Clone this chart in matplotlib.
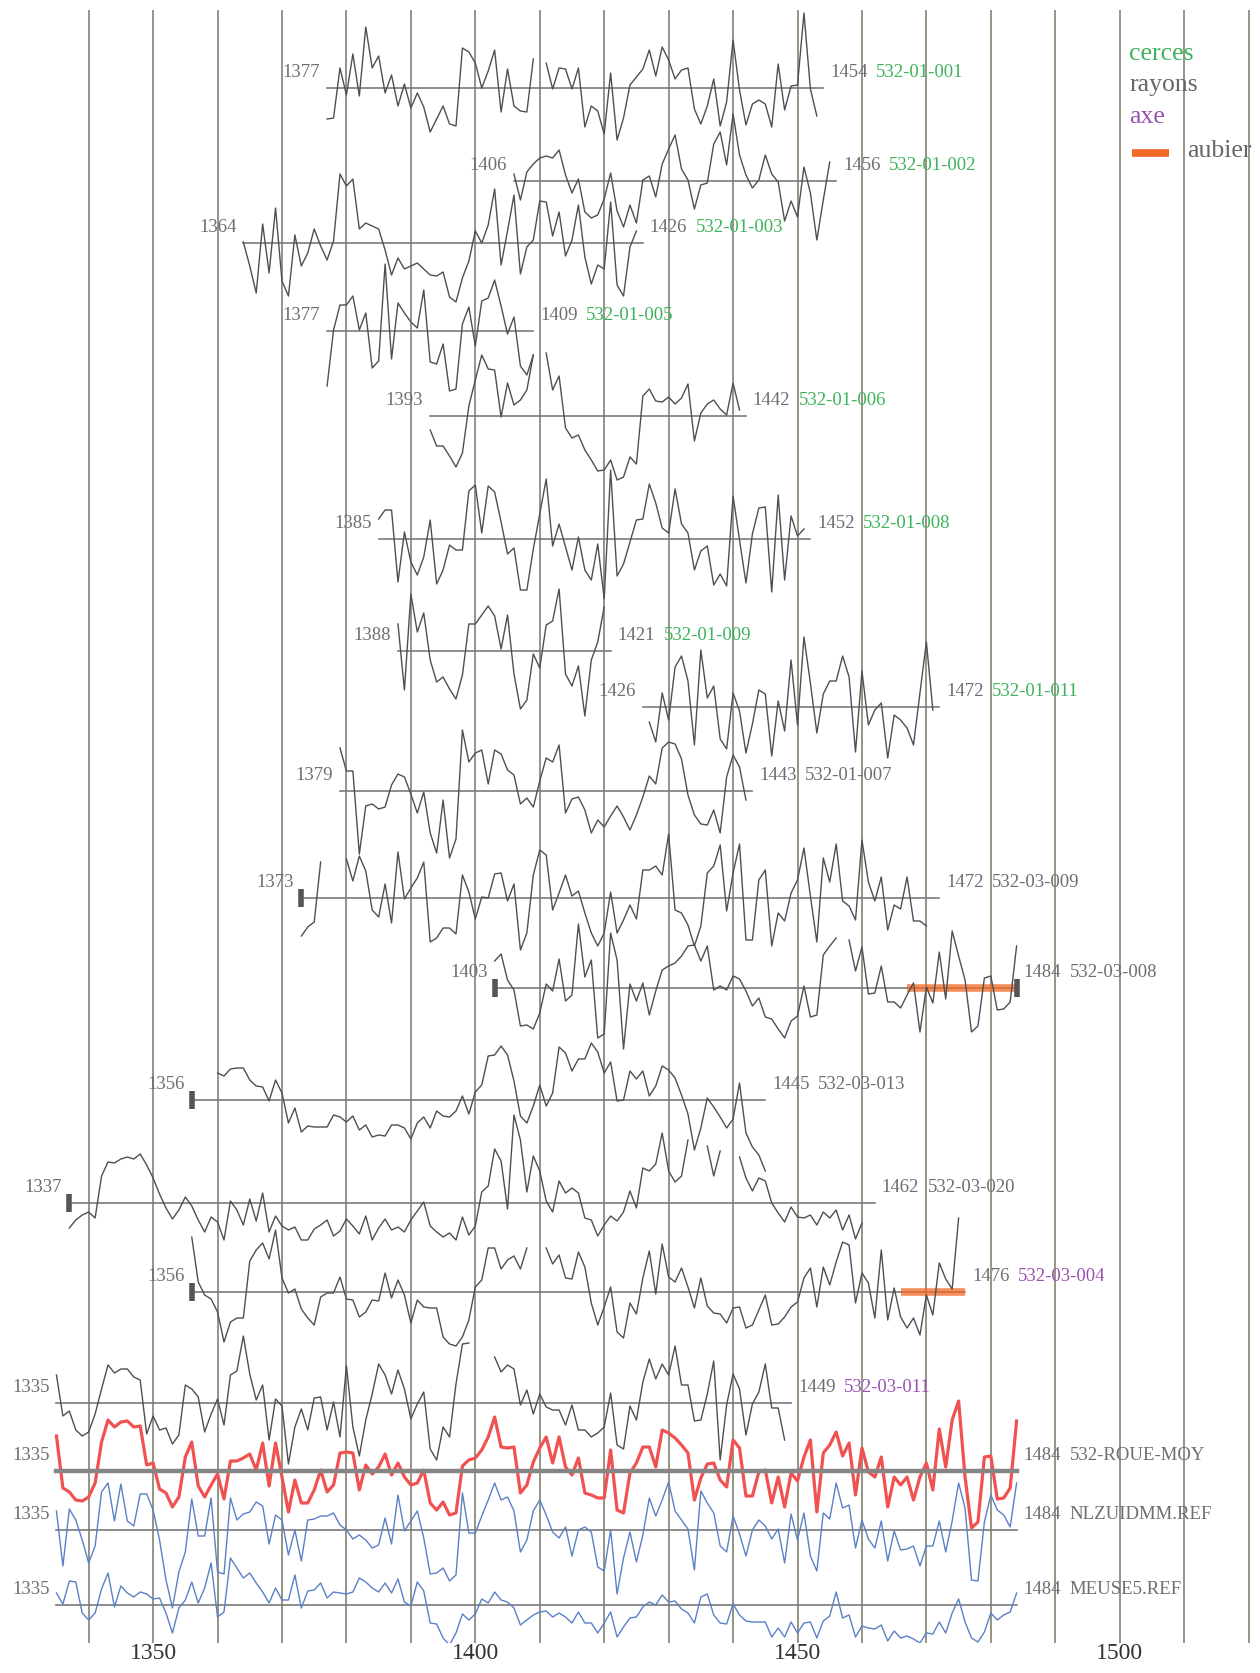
import numpy as np
import matplotlib.pyplot as plt
from matplotlib.lines import Line2D

nan = np.nan

# ring-width curves: px above each baseline, one value per year from the start year
s_01_001 = [-31, -30, 20, -7, 34, -8, 61, 20, 32, -5,
            13, -18, 4, -20, -5, -19, -44, -31, -18, -36,
            -38, 40, 36, 25, 0, 17, 38, -24, 19, -18,
            -23, -24, 29, nan, 25, -1, 20, 19, -1, 20,
            -39, -18, -23, -46, 15, -52, -30, 3, 11, 19,
            38, 12, 41, 28, 9, 18, 20, -21, -36, -18,
            9, -38, -14, 48, -2, -37, -16, -12, -16, -39,
            24, -22, 2, 3, 75, -1, -28, nan]
s_01_002 = [7, -19, 9, 17, 23, 25, 23, 31, 6, -12,
            2, -31, -37, -34, -18, 8, -30, -46, -24, -42,
            1, 5, -16, 17, 32, 46, 12, 1, -28, -4,
            -2, 37, 49, 16, 67, 26, 6, -7, 1, 26,
            7, -1, -40, -20, -36, 14, -12, -59, -19, 19,
            nan]
s_01_003 = [1, -23, -50, 19, -30, 35, -38, -53, 8, -23,
            -10, 14, -3, -17, 2, 69, 57, 64, 14, 20,
            17, 14, -7, -32, -15, -26, -23, -20, -26, -32,
            -33, -29, -54, -59, -35, -18, 12, 0, 18, 54,
            -22, 12, 48, -31, -4, 3, 42, 41, 7, 31,
            -13, 3, 38, -14, -41, -22, -26, 41, -42, -53,
            -4, 12, nan]
s_01_005 = [-55, 1, 26, 26, 35, 1, 18, -37, -30, 67,
            -28, 28, 18, 9, 3, 41, -31, -33, -13, -60,
            -58, 7, 24, -15, 30, 33, 51, 25, -3, 14,
            -35, -44, -24]
s_01_006 = [-14, -30, -30, -40, -51, -37, 10, 36, 61, 47,
            46, -1, 33, 11, 16, 26, 61, nan, 63, 26,
            40, -12, -22, -19, -34, -44, -55, -54, -44, -64,
            -61, -41, -48, 20, 27, 15, 14, 19, 12, 18,
            32, -25, 3, 12, 16, 7, 1, 33, 6, nan]
s_01_008 = [20, 29, 29, -43, 7, -23, -36, -18, 19, -45,
            -31, -6, -11, -11, 48, 54, 6, 53, 47, 17,
            -15, -9, -51, -51, -10, 25, 60, -7, 15, -8,
            -31, 2, -31, -41, -5, -60, 69, -37, -25, -3,
            19, 20, 55, 36, 11, 6, 50, 15, 6, -31,
            -12, -7, -46, -35, -47, 43, -1, -44, 5, 31,
            32, -53, 44, -41, 23, 3, 10, nan]
s_01_009 = [27, -39, 57, 19, 38, -9, -31, -26, -38, -48,
            -24, 27, 27, 36, 45, 35, 2, 36, -23, -58,
            -49, -3, -17, 26, 30, 62, -23, -35, -15, -65,
            -9, 9, 44, nan]
s_01_011 = [nan,
            -15, -35, 14, -13, 40, 51, 26, -38, 57, 9,
            21, -32, -42, 14, -4, -46, -17, 17, 13, -49,
            6, -24, 47, -18, 70, 24, -26, 13, 26, 26,
            51, 30, -45, 36, -18, -3, 4, -51, -8, -13,
            -21, -38, 14, 65, -3, nan]
s_01_007 = [43, 20, 20, -63, -15, -13, -18, -16, 6, 17,
            14, -3, -22, -1, -42, -62, -9, -67, -48, 61,
            29, 38, 41, 7, 41, 37, 21, 16, -13, -7,
            -16, 10, 33, 29, 46, -22, -8, -6, -19, -42,
            -29, -36, -25, -15, -26, -39, -24, -6, 15, 7,
            43, 49, 47, 32, -4, -24, -33, -34, -19, -42,
            14, 36, 24, -9, nan]
s_03_009 = [-38, -29, -24, 36, nan, nan, nan, 39, 17, 42,
            27, -12, -19, 14, -25, 46, -1, 10, 20, 36,
            -44, -40, -30, -30, -36, 23, 6, -21, 1, 0,
            24, 25, -3, 14, -52, -35, 23, 48, 43, -12,
            5, 23, 2, 7, -15, -35, -48, -35, 6, -35,
            -22, -7, -21, 28, 28, 32, 23, 64, -12, -15,
            -27, -48, -28, 25, 32, 53, -13, 25, 54, -42,
            -42, 18, 28, -48, -15, -23, 5, 18, 50, 2,
            -44, 40, 16, 54, -3, -8, -22, 58, 16, -3,
            21, -32, -7, -11, 21, -23, -23, -28, nan, nan]
s_03_008 = [27, 34, 8, -2, -38, -37, -41, -25, 4, -3,
            29, -13, -7, 64, 11, 28, -50, -46, 55, 28,
            -61, 4, -13, 5, -27, -3, 18, 22, 25, 32,
            42, 43, 27, 42, -2, 2, -2, 12, 9, -3,
            -18, -10, -29, -31, -41, -50, -33, -28, 2, -29,
            -27, 33, 42, 50, nan, 48, 17, 41, -6, -5,
            22, -14, -14, -20, -7, 5, -44, 1, -15, 36,
            -11, 57, 32, 8, -44, -38, 10, 12, -22, -21,
            -14, 42]
s_03_013 = [nan, nan, nan, nan, 27, 24, 31, 32, 32, 20,
            14, 13, -1, 20, 7, -23, -8, -32, -26, -27,
            -27, -27, -15, -17, -22, -16, -30, -25, -37, -35,
            -36, -25, -25, -28, -39, -23, -17, -28, -11, -16,
            -17, -11, 4, -14, 8, 15, 44, 45, 54, 45,
            19, -16, -23, -6, 15, -6, 7, 53, 47, 29,
            41, 41, 57, 48, 27, 38, -1, 0, 29, 21,
            29, 4, 14, 34, 30, 22, 5, -14, -50, -28,
            2, -7, -17, -28, -19, 17, -33, -47, -55, -71]
s_03_020 = [-25, -17, -12, -9, -15, 27, 41, 40, 44, 46,
            44, 49, 38, 25, 9, -5, -16, -7, 6, -3,
            -17, -29, -14, -19, -37, 2, -7, -22, 4, -18,
            10, -29, -13, -23, -27, -24, -37, -37, -26, -22,
            -17, -33, -28, -16, -23, -31, -13, -37, -25, -16,
            -27, -24, -29, -17, -8, 1, -23, -29, -34, -30,
            -37, -14, -32, -23, 11, 17, 54, 42, -6, 88,
            63, 11, 47, 32, 2, -9, 22, 10, 15, 10,
            -15, -17, -33, -22, -13, -18, -9, 12, -5, 35,
            32, 39, 70, 32, 21, 27, 63, nan, nan, 57,
            27, 52, nan, nan, 46, 25, 12, 25, 22, 0,
            -10, -19, -4, -14, -15, -12, -22, -9, -15, -7,
            -27, -12, -36, -20, nan, nan]
s_03_004 = [55, 10, -3, -7, -20, -50, -30, -26, -26, 31,
            42, 49, 33, 62, 14, -1, 3, -17, -26, -33,
            -5, -1, -1, 15, -7, -8, -25, -20, -8, -9,
            19, -6, 12, -3, -31, -8, -15, -16, -16, -45,
            -52, -54, -45, -28, 5, 12, 44, 44, 23, 32,
            36, 23, 44, nan, nan, 44, 28, 37, 14, 13,
            40, 25, -11, -33, -15, 5, -40, -46, -11, -22,
            14, 41, -2, 48, 15, 10, 24, 5, -16, 14,
            -14, -21, -22, -31, -16, -15, -36, -33, -18, -3,
            -33, -32, -25, -15, -10, 14, 24, -15, 25, 7,
            30, 50, 47, -11, 19, 9, -26, 42, -28, 4,
            -25, -36, -26, -43, -3, -23, 29, 13, 3, 74,
            nan]
s_03_011 = [28, -13, -8, -27, -33, -29, -11, 14, 38, 30,
            34, 34, 26, 23, -31, -13, -27, -25, -41, -32,
            18, 14, 6, -29, -11, 4, -22, 28, 32, 67,
            29, 3, 18, -37, 4, -3, -61, -24, -6, -27,
            5, 6, -27, 1, -34, 37, -24, -53, -17, 9,
            39, 28, 9, 33, 14, -16, -1, 11, -46, -57,
            -24, -34, 19, 59, 60, nan, nan, nan, 46, 31,
            38, 34, -2, 13, -11, 9, -4, -7, -7, -22,
            -2, -27, -27, -34, -30, -24, 10, -42, -46, -3,
            -17, 21, 44, 24, 39, 28, 57, 18, 18, -18,
            -17, 9, 42, -57, -2, 29, 14, -32, -1, 11,
            39, -5, -5, -37, nan]
roue_moy = [35, -17, -21, -29, -30, -26, -12, 29, 51, 44,
            49, 50, 44, 45, 6, 8, -18, -22, -36, -26,
            14, 29, -15, -26, -14, -3, -28, 10, 10, 13,
            17, 1, 28, -15, 28, -6, -41, -9, -32, -32,
            -19, 1, -21, -14, 18, 19, 18, -19, 6, -3,
            4, 17, -4, 8, -6, -14, -12, 1, -32, -39,
            -31, -44, -42, 5, 11, 13, 21, 34, 54, 24,
            23, 24, -22, -14, 9, 23, 34, 8, 34, 4,
            -4, 13, -22, -24, -27, -27, 21, -39, -42, -2,
            8, 24, 24, 4, 41, 38, 33, 26, 18, -29,
            -7, 7, 8, -9, -16, 31, 23, -25, -25, -1,
            1, -32, -6, -36, -2, -10, 14, 31, -41, 18,
            26, 39, 15, 28, -24, 23, -1, -6, 14, -36,
            -6, -14, -6, -29, -6, 8, -19, 42, 4, 51,
            70, -6, -57, -51, 14, 15, -28, -27, -17, 50]
nlzuidmm = [19, -36, 21, 10, -10, -33, -16, 38, 47, 9,
            46, 9, 4, 36, 36, 20, -10, -50, -78, -42,
            -22, 31, -6, -6, 32, -42, -44, 32, 10, 16,
            18, 28, 24, -14, 15, 10, -25, 0, -31, 10,
            11, 14, 14, 17, 5, 0, -9, -5, -10, -18,
            -15, 12, -14, 35, -1, 9, 19, -8, -44, -43,
            -38, -51, -45, 37, -3, -3, 14, 30, 47, 30,
            33, 19, -22, -10, 19, 30, 15, -2, -8, 3,
            -26, 0, 3, -2, -37, -41, 0, -64, -28, -2,
            -32, -5, 32, 14, 30, 48, 19, 10, 1, -40,
            39, 27, 17, -16, -22, 14, -4, -26, 0, 10,
            4, -9, 1, -33, 16, -10, 17, -26, -41, 17,
            11, 47, 22, 25, -18, 10, -9, -18, 9, -31,
            -1, -20, -19, -16, -36, -16, -16, 9, -22, 9,
            47, 22, -50, -51, 8, 35, 20, 15, 3, 47]
meuse5 = [12, 1, 24, 23, -8, -15, -8, 16, 32, -2,
          19, 12, 8, 13, 11, 6, 7, -8, -28, -3,
          5, 23, 2, 17, 42, -12, -7, 47, 37, 27,
          32, 22, 13, 2, 17, 5, 5, 30, -3, 14,
          15, 22, 7, 13, 12, 11, 13, 27, 23, 17,
          13, 22, 12, 26, 3, -1, 23, 14, -18, -19,
          -33, -40, -28, -9, -15, -9, 6, 2, 13, 5,
          3, -3, -20, -15, -10, -7, -6, -12, -8, -12,
          -18, -7, -18, -18, -28, -18, -7, -32, -22, -13,
          -12, -2, 3, 0, 10, 3, 4, -4, -8, -18,
          8, 11, -10, -18, -19, 1, -10, -16, -17, -17,
          -17, -32, -23, -32, -17, -28, -18, -17, -33, -16,
          -11, 13, -13, -10, -32, -21, -23, -24, -20, -36,
          -26, -33, -31, -34, -38, -28, -29, -17, -28, -8,
          6, -17, -33, -37, -27, -8, -15, -10, -7, 12]

series = [s_01_001, s_01_002, s_01_003, s_01_005, s_01_006, s_01_008,
          s_01_009, s_01_011, s_01_007, s_03_009, s_03_008, s_03_013,
          s_03_020, s_03_004, s_03_011, roue_moy, nlzuidmm, meuse5]
names = ["532-01-001", "532-01-002", "532-01-003", "532-01-005", "532-01-006",
         "532-01-008", "532-01-009", "532-01-011", "532-01-007", "532-03-009",
         "532-03-008", "532-03-013", "532-03-020", "532-03-004", "532-03-011",
         "532-ROUE-MOY", "NLZUIDMM.REF", "MEUSE5.REF"]
starts = [1377, 1406, 1364, 1377, 1393, 1385, 1388, 1426, 1379, 1373,
          1403, 1356, 1337, 1356, 1335, 1335, 1335, 1335]
ends = [1454, 1456, 1426, 1409, 1442, 1452, 1421, 1472, 1443, 1472,
        1484, 1445, 1462, 1476, 1449, 1484, 1484, 1484]
groups = ["cerces"] * 8 + ["rayons"] * 5 + ["axe"] * 2 + ["ref"] * 3

# pith / bark marks and sapwood spans
marks = [("532-03-009", 1373), ("532-03-008", 1403), ("532-03-008", 1484),
         ("532-03-013", 1356), ("532-03-020", 1337), ("532-03-004", 1356)]
aubier = {"532-03-008": (1467, 1484), "532-03-004": (1466, 1476)}

# vertical position of each curve (pixel rows of the page)
base_y = [88, 181, 243, 331, 416, 539, 651, 707, 791, 898,
          988, 1100, 1203, 1292, 1403, 1471, 1530, 1605]

name_colors = {"cerces": "#3cb35a", "rayons": "#6e6e6e", "axe": "#9a52b0", "ref": "#6e6e6e"}
year_color = "#6e6e6e"
orange = "#f26a28"

plt.rcParams['font.family'] = ['Liberation Serif', 'DejaVu Serif']

fig = plt.figure(figsize=(12.6, 16.73), dpi=100)
ax = fig.add_axes([0, 30 / 1673, 1, 1633 / 1673])
ax.set_xlim(1326.24, 1521.77)
ax.set_ylim(1643, 10)

for vals, name, start, end, grp, base in zip(series, names, starts, ends, groups, base_y):
    vals = np.array(vals, dtype=float)
    years = start + np.arange(len(vals))
    if name == "532-ROUE-MOY":
        ax.plot(years, base - vals, color="#f05252", lw=2.3, zorder=3)
        ax.plot([start, end], [base, base], color="#858585", lw=3.2, zorder=4)
    else:
        if grp == "ref":
            col, lw = "#5a80c6", 1.0
        else:
            col, lw = "#4f4f4f", 1.0
        ax.plot([start, end], [base, base], color="#7a7a7a", lw=1.2, zorder=2)
        ax.plot(years, base - vals, color=col, lw=lw, zorder=3)

    if name in aubier:
        a0, a1 = aubier[name]
        ax.plot([a0, a1], [base, base], color=orange, lw=5.5, alpha=0.75,
                solid_capstyle='butt', zorder=2.5)

    ax.annotate(str(start), (start, base), xytext=(-5, 11.5), textcoords='offset points',
                ha='right', va='center', color=year_color, fontsize=13.5)
    ax.annotate(str(end), (end, base), xytext=(5, 11.5), textcoords='offset points',
                ha='left', va='center', color=year_color, fontsize=13.5)
    ax.annotate(name, (end, base), xytext=(38, 11.5), textcoords='offset points',
                ha='left', va='center', color=name_colors[grp], fontsize=13.5)

for name, yr in marks:
    base = base_y[names.index(name)]
    ax.plot([yr], [base], marker='|', ms=12.5, mew=4, color="#555555", zorder=5)

# decade lines and century labels
ax.set_xticks([1350, 1400, 1450, 1500])
ax.set_xticks(range(1340, 1521, 10), minor=True)
ax.grid(True, which='both', axis='x', color="#8c8c7c", lw=1.3)
ax.set_axisbelow(True)
ax.set_yticks([])
ax.tick_params(axis='x', which='both', length=0, pad=0, labelsize=17, labelcolor="#333333")
for s in ax.spines.values():
    s.set_visible(False)

# legend
fig.text(1129 / 1260, 1 - 54 / 1673, "cerces", color=name_colors["cerces"], fontsize=18.5, va='center')
fig.text(1129 / 1260, 1 - 85 / 1673, "rayons", color="#666666", fontsize=18.5, va='center')
fig.text(1129 / 1260, 1 - 117 / 1673, "axe", color=name_colors["axe"], fontsize=18.5, va='center')
fig.add_artist(Line2D([1132 / 1260, 1169 / 1260], [1 - 153 / 1673, 1 - 153 / 1673],
                      color=orange, lw=5.5, solid_capstyle='butt'))
fig.text(1187 / 1260, 1 - 151 / 1673, "aubier", color="#666666", fontsize=18.5, va='center')

fig.savefig("out.png", dpi=100)
